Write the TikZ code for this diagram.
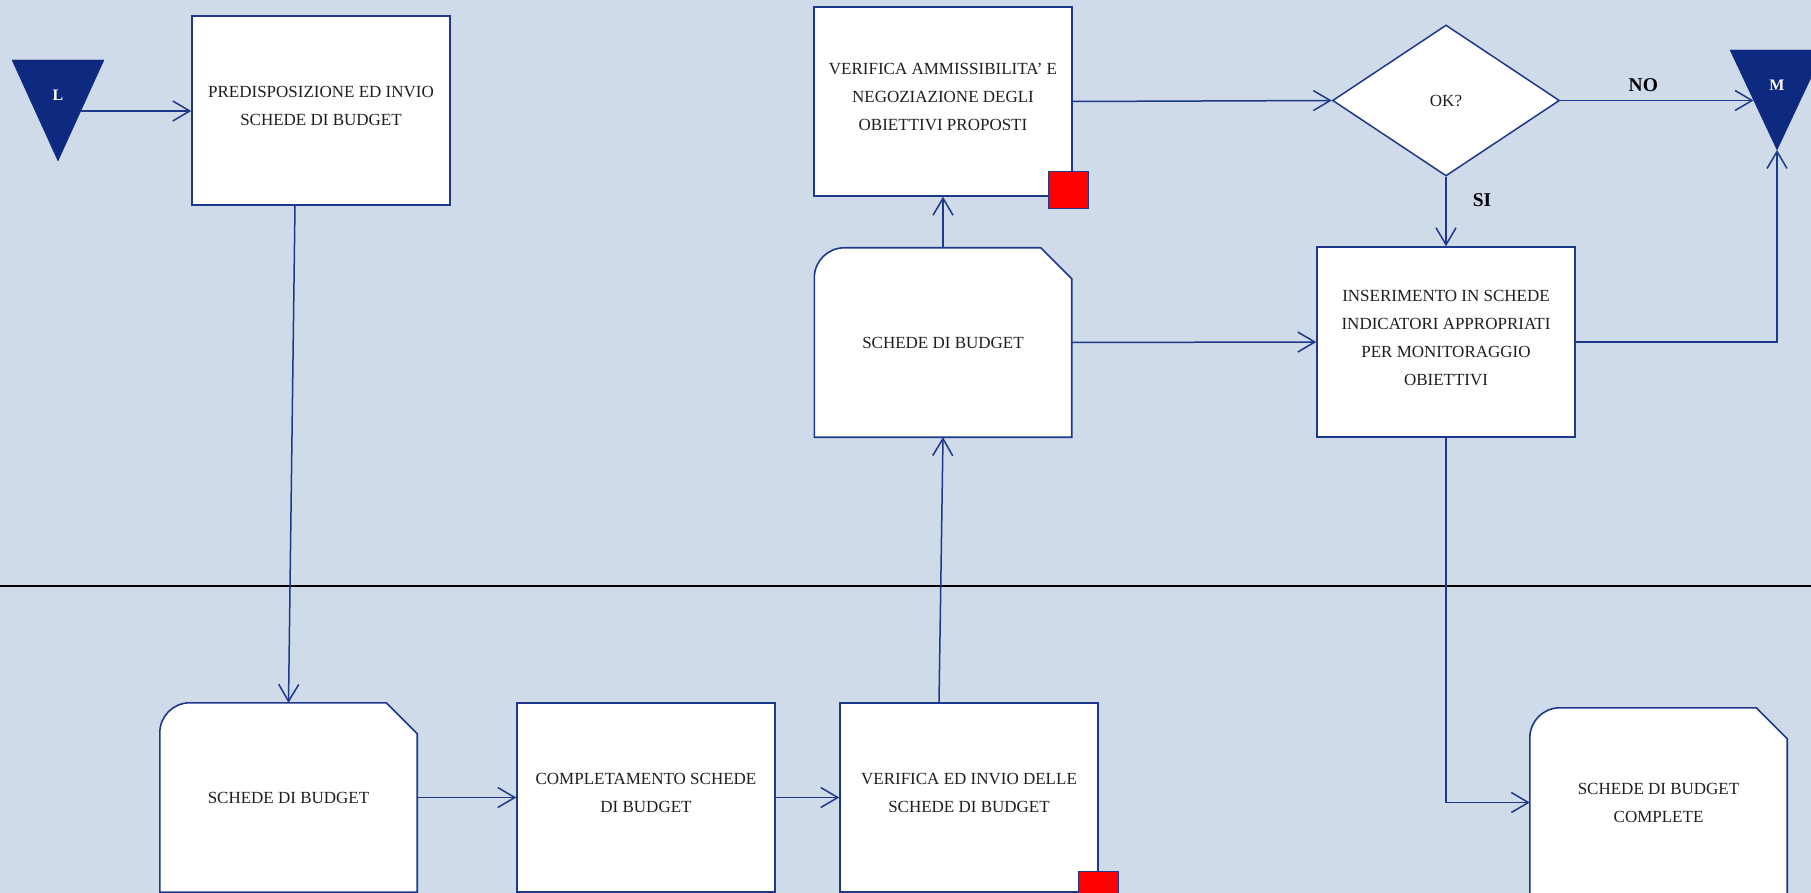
\documentclass[tikz,border=0pt]{standalone}
\usepackage{fontspec}
\setmainfont{Liberation Serif}
\usetikzlibrary{arrows.meta,shapes.geometric}
\definecolor{bgc}{RGB}{207,219,232}
\definecolor{lnc}{RGB}{30,56,140}
\definecolor{trc}{RGB}{14,41,128}
\definecolor{txc}{RGB}{30,30,30}
\newcommand{\lowstrut}{\rule[-9pt]{0pt}{9pt}}
\pgfdeclarelayer{docbg}
\pgfsetlayers{docbg,main}
\begin{document}
\begin{tikzpicture}[x=1pt,y=-1pt,
  box/.style={draw=lnc,line width=1.5pt,fill=white,rectangle,minimum width=258pt,minimum height=189pt,inner sep=0pt,align=center,font=\fontsize{17}{28}\selectfont,text=txc},
  doctext/.style={rectangle,minimum width=257pt,minimum height=189pt,inner sep=0pt,align=center,font=\fontsize{17}{28}\selectfont,text=txc},
  docshape/.style={draw=lnc,line width=1.6pt,fill=white},
  arr/.style={draw=lnc,line width=1.5pt,-{Straight Barb[length=17pt,width=20pt]}},
  tri/.style={fill=trc,draw=trc},
  tritext/.style={text=white,inner sep=0pt,font=\bfseries\fontsize{16}{16}\selectfont},
  lab/.style={font=\bfseries\fontsize{19.5}{20}\selectfont,text=black,inner sep=0pt},
  redsq/.style={draw=lnc,line width=1pt,fill=red,minimum width=40pt,minimum height=37pt,inner sep=0pt}
]
\useasboundingbox (0,0) rectangle (1811,893);
% separator
\draw[black,line width=2.5pt] (0,586) -- (1811,586);
% process boxes
\node[box] (pred) at (321,110.5) {PREDISPOSIZIONE ED INVIO\\SCHEDE DI BUDGET\lowstrut};
\node[box] (verA) at (943,101.5) {VERIFICA AMMISSIBILITA’ E\\NEGOZIAZIONE DEGLI\\OBIETTIVI PROPOSTI\lowstrut};
\node[box,minimum height=190pt] (ins) at (1446,342) {INSERIMENTO IN SCHEDE\\INDICATORI APPROPRIATI\\PER MONITORAGGIO\\OBIETTIVI\lowstrut};
\node[box] (comp) at (646,797.5) {COMPLETAMENTO SCHEDE\\DI BUDGET\lowstrut};
\node[box] (verB) at (969,797.5) {VERIFICA ED INVIO DELLE\\SCHEDE DI BUDGET\lowstrut};
% documents
\node[doctext] (doc1) at (943,342.5) {SCHEDE DI BUDGET};
\node[doctext] (doc2) at (288.5,797.5) {SCHEDE DI BUDGET};
\node[doctext] (doc3) at (1658.5,802.5) {SCHEDE DI BUDGET\\COMPLETE};
\begin{pgfonlayer}{docbg}
  \fill[bgc] (0,0) rectangle (1811,893);
  \foreach \d in {doc1,doc2,doc3}{
    \path[docshape] (\d.south west) -- ([yshift=-30pt]\d.north west)
      arc[start angle=180,end angle=90,radius=30pt]
      -- ([xshift=-31pt]\d.north east) -- ([yshift=-31pt]\d.north east)
      -- (\d.south east) -- cycle;
  }
\end{pgfonlayer}
% decision
\node[diamond,draw=lnc,fill=white,line width=1.5pt,minimum width=227pt,minimum height=151pt,inner sep=0pt,font=\fontsize{17}{20}\selectfont,text=txc] (ok) at (1446,100.5) {OK?};
% red markers
\node[redsq] (redA) at ([xshift=-4pt,yshift=6.5pt]verA.south east) {};
\node[redsq] (redB) at ([yshift=3pt]verB.south east) {};
% off-page connectors
\fill[tri] (12,60) -- (104,60) -- (58,161) -- cycle;
\node[tritext] (L) at (58,95.5) {L};
\coordinate (Lout) at (81,111);
\fill[tri] (1730,50) -- (1824,50) -- (1777,150) -- cycle;
\node[tritext] (M) at (1777,85.5) {M};
\coordinate (Min) at (1753.5,100.5);
\coordinate (Mtip) at (1777,150);
% arrows
\draw[arr] (Lout) -- (Lout -| pred.west);
\draw[arr] ([xshift=-26pt]pred.south) -- (doc2.north);
\draw[arr] (doc2.east) -- (comp.west);
\draw[arr] (comp.east) -- (verB.west);
\draw[arr] ([xshift=-30pt]verB.north) -- (doc1.south);
\draw[arr] (doc1.north) -- (verA.south);
\draw[arr] (verA.east) -- (ok.west);
\draw[arr] (ok.east) -- node[lab,pos=0.43,yshift=15pt] {NO} (Min);
\draw[arr] (ok.south) -- node[lab,pos=0.34,xshift=36pt] {SI} (ins.north);
\draw[arr] (doc1.east) -- (ins.west);
\draw[arr] (ins.east) -| (Mtip);
\draw[arr] (ins.south) |- (doc3.west);
\end{tikzpicture}
\end{document}
